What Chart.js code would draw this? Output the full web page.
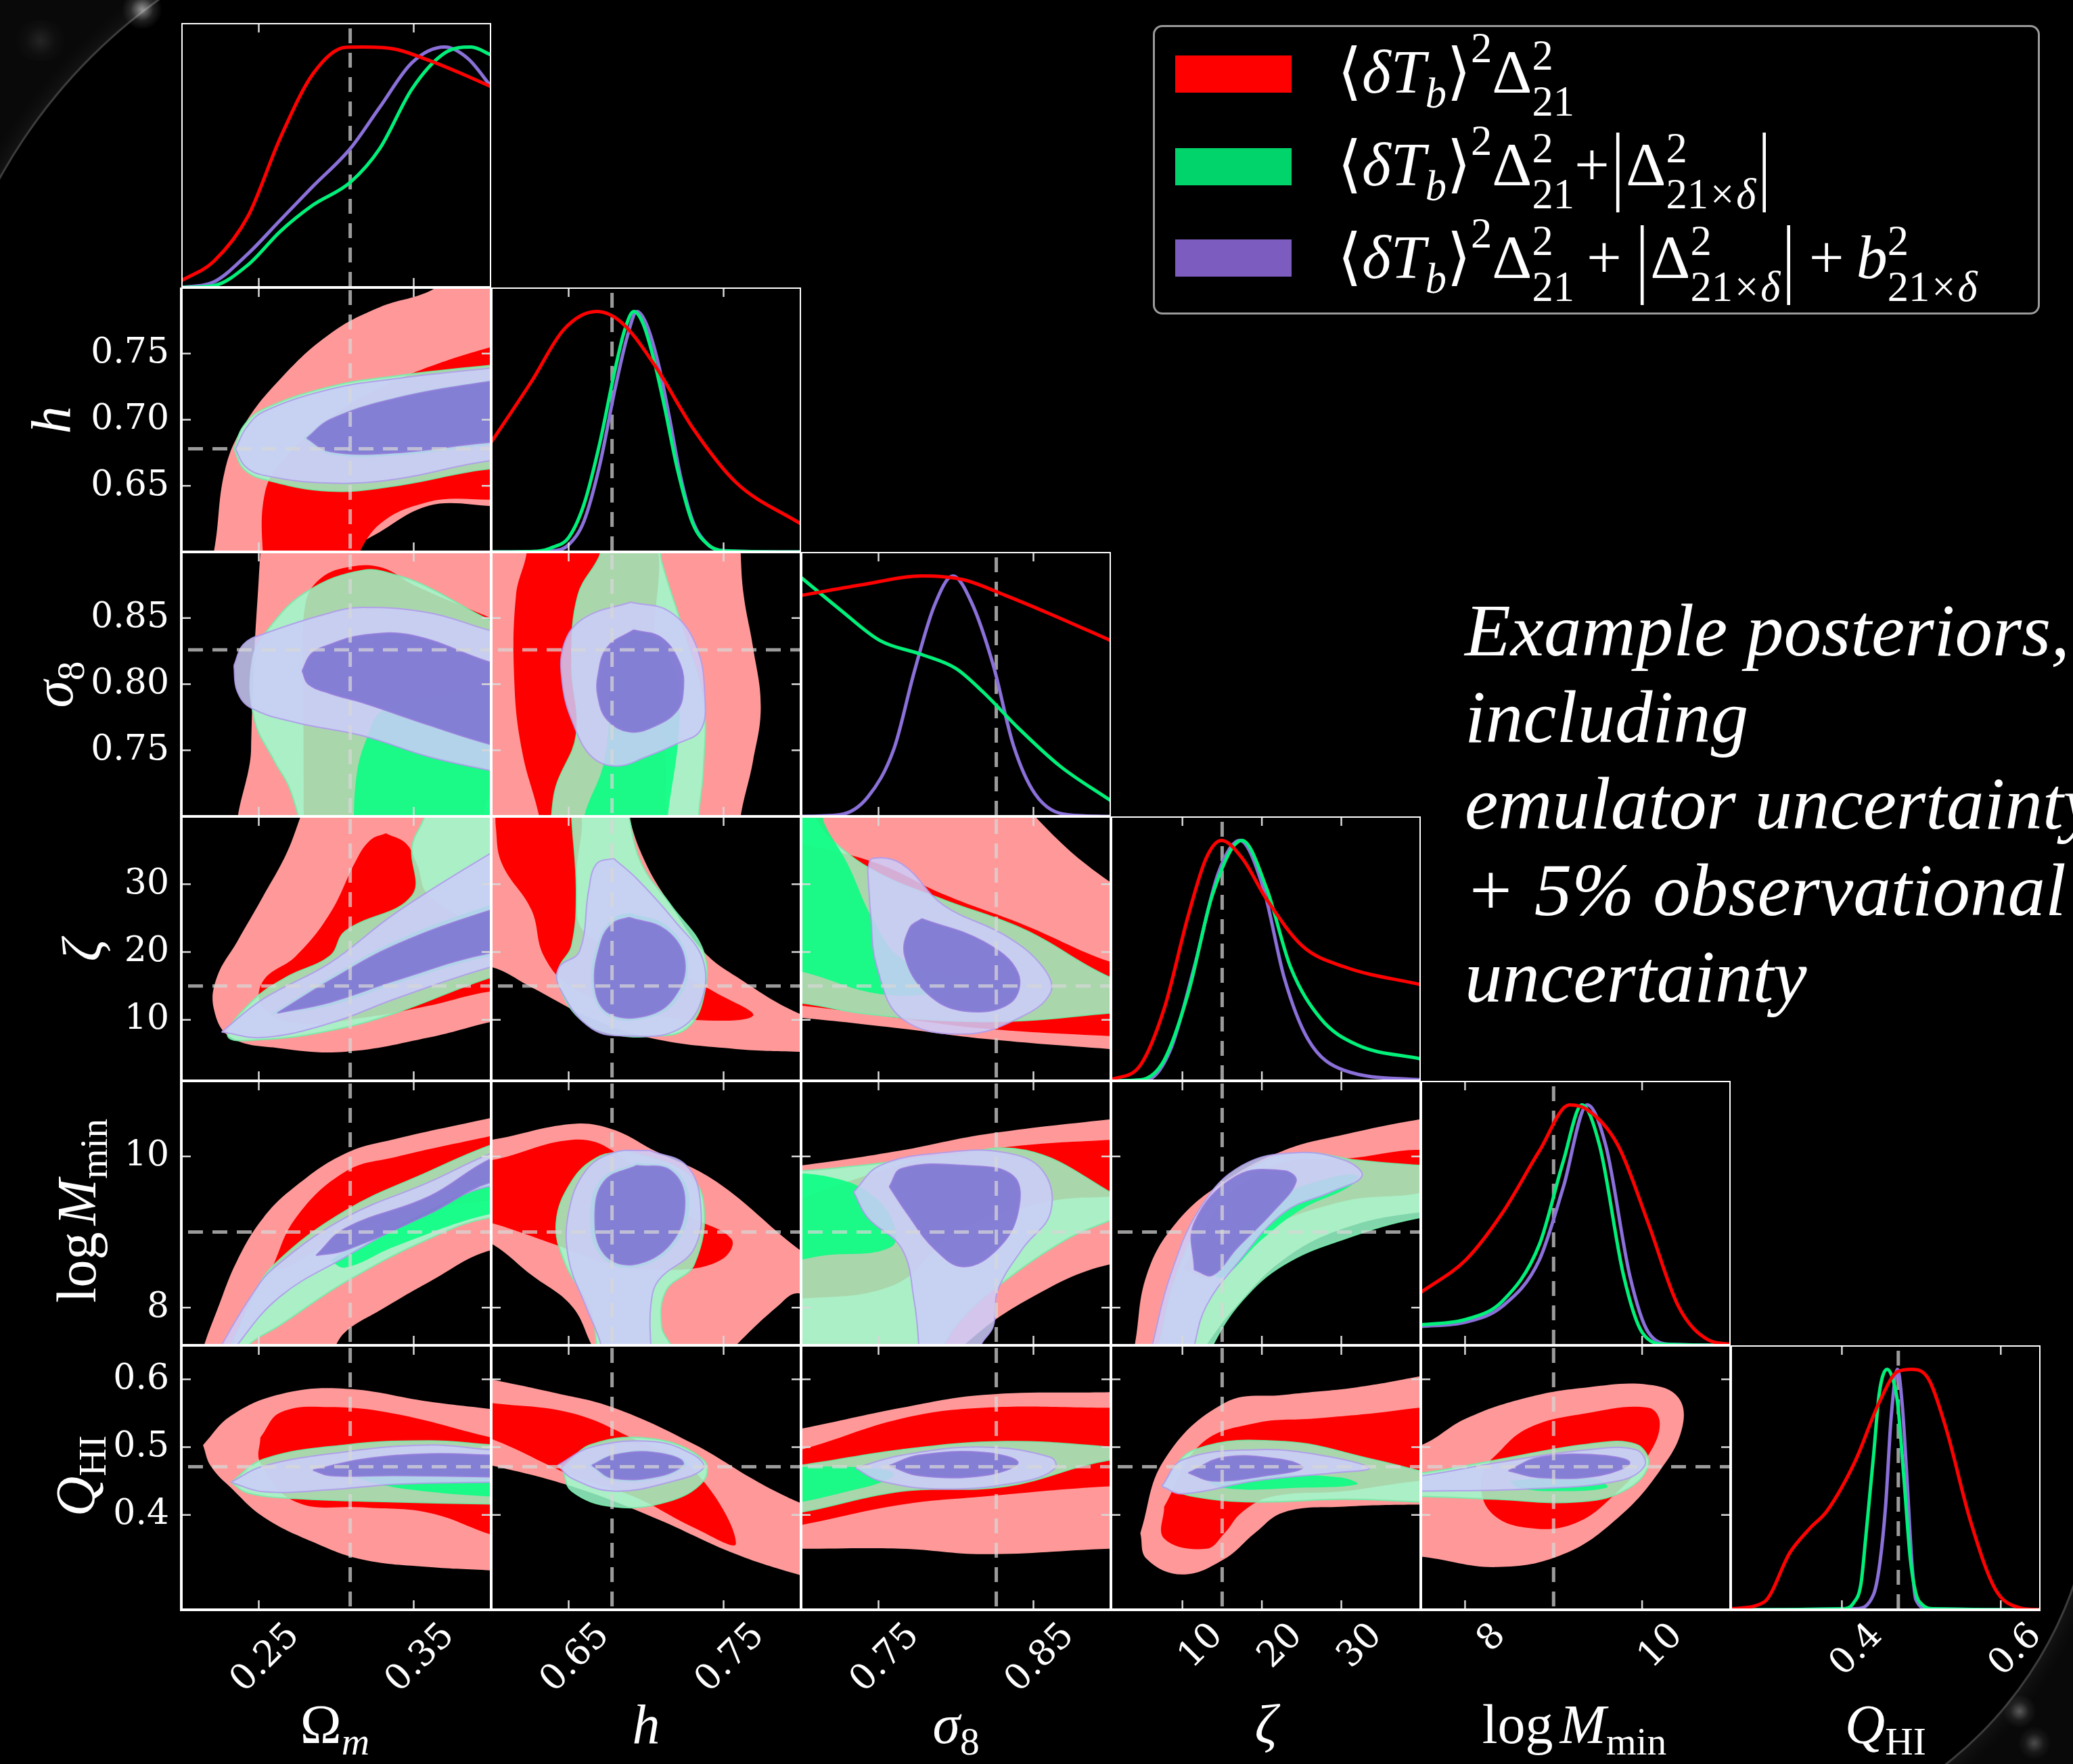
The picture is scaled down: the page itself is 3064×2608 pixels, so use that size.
<!DOCTYPE html>
<html>
<head>
<meta charset="utf-8">
<script src="https://cdn.jsdelivr.net/npm/chart.js"></script>
<style>
  body { margin: 0; background: #000; }
  #wrap { position: relative; width: 3064px; height: 2608px; background: #000; overflow: hidden; color: #fff; }
  #wrap canvas { position: absolute; }
  .ttl { position: absolute; font-family: 'Liberation Serif', 'Times New Roman', Tinos, 'DejaVu Serif', serif; font-size: 82px; line-height: 1; white-space: nowrap; transform: translate(-50%, -50%); }
  .ttl.rot { transform: translate(-50%, -50%) rotate(-90deg); }
  .ttl sub { font-size: 0.7em; vertical-align: -0.3em; line-height: 0; }
  .patch { position: absolute; left: 1737px; width: 172px; height: 55px; }
  .lg { position: absolute; left: 1977px; font-family: 'Liberation Serif', 'Times New Roman', Tinos, 'DejaVu Serif', serif; font-size: 92px; line-height: 2; white-space: nowrap; }
  .lg sup { font-size: 0.68em; vertical-align: 0.72em; line-height: 0; }
  .lg sub { font-size: 0.68em; vertical-align: -0.35em; line-height: 0; }
  .ss { display: inline-block; font-size: 0.68em; line-height: 1.1; vertical-align: -0.55em; }
  .ss > span { display: block; }
  .bar { display: inline-block; transform: scaleY(1.4); margin: 0 3px; }
  .pl { margin: 0 18px; }
  .x { margin: 0 3px; }
  #note { position: absolute; left: 2165px; top: 868px; font-family: 'Liberation Serif', 'Times New Roman', Tinos, 'DejaVu Serif', serif; font-style: italic; font-size: 111px; line-height: 128px; white-space: nowrap; }
  .deco { position: absolute; overflow: hidden; background: rgba(255,255,255,0.035); }
  .arc { position: absolute; border-radius: 50%; background: #000; border: 3px solid rgba(200,200,200,0.3); box-shadow: 0 0 36px rgba(255,255,255,0.09); }
  .glow { position: absolute; border-radius: 50%; background: radial-gradient(circle, rgba(255,255,255,0.55) 0%, rgba(255,255,255,0.12) 40%, rgba(255,255,255,0) 70%); }
</style>
</head>
<body>
<div id="wrap">
  <div class="deco" style="left:0;top:0;width:300px;height:280px">
    <div class="arc" style="left:-103px;top:-153px;width:1608px;height:1608px"></div>
    <div class="glow" style="left:180px;top:-16px;width:60px;height:60px"></div>
    <div class="glow" style="left:15px;top:30px;width:90px;height:60px;opacity:0.2"></div>
  </div>
  <div class="deco" style="left:2820px;top:2260px;width:244px;height:348px">
    <div class="arc" style="left:-874px;top:-680px;width:1146px;height:1146px"></div>
    <div class="glow" style="left:140px;top:245px;width:50px;height:50px;opacity:0.6"></div>
    <div class="glow" style="left:162px;top:292px;width:50px;height:50px;opacity:0.5"></div>
  </div>

  <div style="position:absolute;left:1704px;top:37px;width:1311px;height:428px;box-sizing:border-box;border:3px solid #9a9a9a;border-radius:14px;background:#000"></div>
  <div class="patch" style="top:82px;background:#ff0000"></div>
  <div class="patch" style="top:219px;background:#00d46a"></div>
  <div class="patch" style="top:354px;background:#7c5cbe"></div>
  <div class="lg" style="top:14px">⟨<i>δT</i><sub><i>b</i></sub>⟩<sup>2</sup>Δ<span class="ss"><span>2</span><span>21</span></span></div>
  <div class="lg" style="top:151px">⟨<i>δT</i><sub><i>b</i></sub>⟩<sup>2</sup>Δ<span class="ss"><span>2</span><span>21</span></span>+<span class="bar">|</span>Δ<span class="ss"><span>2</span><span>21<span class="x">×</span><i>δ</i></span></span><span class="bar">|</span></div>
  <div class="lg" style="top:288px">⟨<i>δT</i><sub><i>b</i></sub>⟩<sup>2</sup>Δ<span class="ss"><span>2</span><span>21</span></span><span class="pl">+</span><span class="bar">|</span>Δ<span class="ss"><span>2</span><span>21<span class="x">×</span><i>δ</i></span></span><span class="bar">|</span><span class="pl">+</span><i>b</i><span class="ss"><span>2</span><span>21<span class="x">×</span><i>δ</i></span></span></div>

  <div id="note">Example posteriors,<br>including<br>emulator uncertainty<br>+ 5% observational<br>uncertainty</div>

  <div class="ttl" style="left:495px;top:2550px">Ω<sub><i>m</i></sub></div>
  <div class="ttl" style="left:955px;top:2550px"><i>h</i></div>
  <div class="ttl" style="left:1413px;top:2550px"><i>σ</i><sub>8</sub></div>
  <div class="ttl" style="left:1871px;top:2550px"><i>ζ</i></div>
  <div class="ttl" style="left:2327px;top:2550px">log<i style="margin-left:10px">M</i><sub>min</sub></div>
  <div class="ttl" style="left:2787px;top:2550px"><i>Q</i><sub>HI</sub></div>

  <div class="ttl rot" style="left:76px;top:621px"><i>h</i></div>
  <div class="ttl rot" style="left:80px;top:1012px"><i>σ</i><sub>8</sub></div>
  <div class="ttl rot" style="left:122px;top:1405px"><i>ζ</i></div>
  <div class="ttl rot" style="left:114px;top:1790px">log<i style="margin-left:10px">M</i><sub>min</sub></div>
  <div class="ttl rot" style="left:112px;top:2182px"><i>Q</i><sub>HI</sub></div>
</div>

<script>
// parameters: Om, h, sigma8, zeta, logMmin, QHI
const paramMin = [0.2, 0.6, 0.7, 1, 7.5, 0.26];
const paramMax = [0.4, 0.8, 0.9, 40, 11, 0.65];
const truth = [0.309, 0.678, 0.826, 15, 9, 0.471];
const xTickVals = [[0.25, 0.35], [0.65, 0.75], [0.75, 0.85], [10, 20, 30], [8, 10], [0.4, 0.6]];
const xTickText = [['0.25', '0.35'], ['0.65', '0.75'], ['0.75', '0.85'], ['10', '20', '30'], ['8', '10'], ['0.4', '0.6']];
const yTickVals = [[], [0.65, 0.70, 0.75], [0.75, 0.80, 0.85], [10, 20, 30], [8, 10], [0.4, 0.5, 0.6]];
const yTickText = [[], ['0.65', '0.70', '0.75'], ['0.75', '0.80', '0.85'], ['10', '20', '30'], ['8', '10'], ['0.4', '0.5', '0.6']];

// 1D marginals (normalised to peak 1)
const omD_r = [[0.2,0.028],[0.221,0.109],[0.243,0.296],[0.264,0.624],[0.285,0.889],[0.306,0.999],[0.317,1.0],[0.338,0.991],[0.36,0.944],[0.381,0.889],[0.40,0.835]];
const omD_g = [[0.2,0],[0.221,0.008],[0.243,0.094],[0.264,0.234],[0.285,0.343],[0.309,0.437],[0.328,0.577],[0.349,0.827],[0.37,0.975],[0.387,1.0],[0.40,0.967]];
const omD_p = [[0.2,0],[0.221,0.023],[0.243,0.14],[0.264,0.281],[0.285,0.421],[0.309,0.577],[0.328,0.749],[0.349,0.936],[0.37,1.0],[0.385,0.952],[0.40,0.835]];
const hD_r = [[0.6,0.456],[0.626,0.709],[0.647,0.926],[0.668,1.0],[0.684,0.955],[0.705,0.782],[0.731,0.507],[0.758,0.289],[0.80,0.116]];
const hD_g = [[0.6,0],[0.63,0.003],[0.64,0.02],[0.65,0.06],[0.66,0.2],[0.67,0.45],[0.68,0.76],[0.686,0.92],[0.692,1.0],[0.698,0.95],[0.705,0.80],[0.712,0.6],[0.72,0.35],[0.73,0.12],[0.74,0.03],[0.75,0.005],[0.8,0]];
const hD_p = [[0.6,0],[0.64,0.005],[0.65,0.03],[0.66,0.13],[0.67,0.36],[0.68,0.68],[0.688,0.9],[0.694,1.0],[0.70,0.95],[0.708,0.78],[0.715,0.56],[0.722,0.32],[0.73,0.13],[0.74,0.03],[0.75,0.005],[0.8,0]];
const s8D_r = [[0.70,0.919],[0.738,0.962],[0.778,1.0],[0.805,0.984],[0.832,0.919],[0.859,0.847],[0.90,0.731]];
const s8D_g = [[0.70,0.994],[0.725,0.861],[0.751,0.731],[0.778,0.673],[0.80,0.615],[0.818,0.514],[0.84,0.369],[0.867,0.21],[0.90,0.065]];
const s8D_p = [[0.70,0],[0.725,0.007],[0.743,0.08],[0.76,0.282],[0.773,0.60],[0.786,0.876],[0.798,1.0],[0.81,0.89],[0.824,0.63],[0.837,0.297],[0.851,0.094],[0.872,0.007],[0.90,0]];
const zD_r = [[1,0.004],[4.7,0.065],[7.7,0.30],[10.75,0.69],[13.0,0.927],[14.9,1.0],[17.5,0.927],[20.6,0.755],[25.1,0.561],[30.4,0.474],[40,0.40]];
const zD_g = [[1,0],[4.7,0.004],[7.7,0.086],[10.75,0.367],[13.8,0.776],[17.5,1.0],[20.6,0.80],[23.6,0.474],[27.4,0.259],[31.9,0.151],[40,0.091]];
const zD_p = [[1,0],[5.5,0.004],[8.5,0.13],[11.5,0.474],[14.5,0.863],[17.2,1.0],[20.2,0.80],[22.8,0.43],[25.8,0.173],[30.4,0.043],[40,0.004]];
const mD_r = [[7.5,0.22],[8.01,0.356],[8.42,0.55],[8.84,0.809],[9.18,1.0],[9.38,0.98],[9.73,0.83],[10.07,0.507],[10.41,0.162],[10.75,0.022],[11.0,0.004]];
const mD_g = [[7.5,0.085],[8.01,0.108],[8.42,0.183],[8.84,0.42],[9.11,0.766],[9.32,1.0],[9.52,0.83],[9.79,0.291],[10.0,0.054],[10.27,0.004],[11,0]];
const mD_p = [[7.5,0.078],[8.01,0.097],[8.42,0.162],[8.84,0.356],[9.11,0.658],[9.38,1.0],[9.59,0.83],[9.86,0.291],[10.07,0.054],[10.34,0.004],[11,0]];
const qD_r = [[0.26,0.004],[0.302,0.032],[0.335,0.24],[0.36,0.34],[0.381,0.41],[0.417,0.62],[0.447,0.863],[0.47,0.99],[0.488,1.0],[0.509,0.96],[0.531,0.755],[0.562,0.367],[0.593,0.086],[0.623,0.009],[0.65,0]];
const qD_g = [[0.26,0],[0.40,0.004],[0.415,0.03],[0.424,0.108],[0.43,0.3],[0.44,0.647],[0.447,0.9],[0.457,1.0],[0.464,0.96],[0.47,0.863],[0.478,0.55],[0.486,0.216],[0.493,0.07],[0.501,0.022],[0.516,0.004],[0.65,0]];
const qD_p = [[0.26,0],[0.417,0.004],[0.44,0.065],[0.448,0.2],[0.455,0.431],[0.462,0.8],[0.470,1.0],[0.476,0.85],[0.482,0.539],[0.488,0.2],[0.493,0.043],[0.509,0.004],[0.65,0]];

// 2D credible regions: r = red, g = green, p = purple; 2 = outer, 1 = inner
const hOm_r2 = [[0.215,0.58],[0.221,0.60],[0.228,0.661],[0.240,0.695],[0.264,0.731],[0.296,0.765],[0.328,0.785],[0.360,0.797],[0.375,0.81],[0.42,0.81],[0.42,0.645],[0.36,0.635],[0.328,0.615],[0.311,0.601],[0.305,0.58]];
const hOm_r1 = [[0.253,0.58],[0.254,0.645],[0.27,0.675],[0.30,0.705],[0.33,0.725],[0.36,0.740],[0.40,0.755],[0.42,0.76],[0.42,0.65],[0.36,0.638],[0.328,0.621],[0.30,0.58]];
const hOm_g2 = [[0.234,0.678],[0.24,0.695],[0.253,0.708],[0.296,0.725],[0.338,0.733],[0.40,0.741],[0.42,0.742],[0.42,0.66],[0.40,0.663],[0.338,0.65],[0.296,0.646],[0.253,0.655],[0.24,0.663]];
const hOm_g1 = [[0.279,0.686],[0.296,0.701],[0.338,0.717],[0.40,0.730],[0.42,0.732],[0.42,0.68],[0.40,0.681],[0.338,0.673],[0.296,0.674]];
const hOm_p2 = [[0.235,0.678],[0.242,0.694],[0.253,0.706],[0.296,0.723],[0.338,0.731],[0.40,0.739],[0.42,0.740],[0.42,0.667],[0.40,0.669],[0.338,0.655],[0.296,0.652],[0.253,0.658],[0.241,0.665]];
const hOm_p1 = [[0.281,0.686],[0.296,0.700],[0.338,0.716],[0.40,0.729],[0.42,0.731],[0.42,0.682],[0.40,0.683],[0.338,0.675],[0.296,0.676]];

const s8Om_r2 = [[0.252,0.92],[0.250,0.88],[0.247,0.82],[0.245,0.75],[0.244,0.68],[0.42,0.68],[0.42,0.92]];
const s8Om_r1 = [[0.279,0.68],[0.279,0.80],[0.280,0.86],[0.29,0.88],[0.31,0.889],[0.33,0.888],[0.35,0.875],[0.40,0.85],[0.42,0.84],[0.42,0.75],[0.40,0.72],[0.385,0.68]];
const s8Om_g2 = [[0.280,0.68],[0.270,0.721],[0.260,0.742],[0.247,0.774],[0.246,0.819],[0.257,0.843],[0.281,0.870],[0.317,0.886],[0.34,0.882],[0.36,0.873],[0.398,0.849],[0.42,0.84],[0.42,0.68]];
const s8Om_g1 = [[0.311,0.68],[0.313,0.73],[0.32,0.76],[0.33,0.78],[0.36,0.79],[0.42,0.79],[0.42,0.68]];
const s8Om_p2 = [[0.234,0.814],[0.240,0.830],[0.253,0.838],[0.296,0.854],[0.317,0.858],[0.36,0.854],[0.398,0.841],[0.42,0.835],[0.42,0.73],[0.398,0.735],[0.36,0.745],[0.317,0.761],[0.274,0.771],[0.245,0.782],[0.236,0.795]];
const s8Om_p1 = [[0.278,0.810],[0.284,0.823],[0.296,0.830],[0.317,0.837],[0.349,0.837],[0.398,0.817],[0.42,0.81],[0.42,0.75],[0.398,0.755],[0.36,0.769],[0.317,0.786],[0.296,0.793],[0.282,0.800]];

const zOm_r2 = [[0.28,42],[0.277,40],[0.268,34.6],[0.253,28.3],[0.236,21.5],[0.223,16.3],[0.221,11.6],[0.232,7.4],[0.264,5.8],[0.306,5.3],[0.36,7.4],[0.40,9.7],[0.42,10.5],[0.42,42]];
const zOm_r1 = [[0.332,37.5],[0.345,36],[0.352,33],[0.36,28.3],[0.40,23.1],[0.42,22],[0.42,14],[0.40,14.2],[0.36,12.1],[0.317,10.3],[0.274,9.5],[0.252,12],[0.253,15.8],[0.274,19.4],[0.296,25.7],[0.313,33.6],[0.322,36.5]];
const zOm_g2 = [[0.357,42],[0.357,40],[0.349,35.7],[0.349,28.3],[0.306,23.1],[0.296,19.4],[0.268,16.3],[0.245,12.6],[0.230,7.6],[0.253,7.1],[0.296,8.4],[0.338,11.0],[0.40,16.3],[0.42,17],[0.42,42]];
const zOm_g1 = [[0.258,10.8],[0.296,16.3],[0.338,21.6],[0.40,27],[0.42,28],[0.42,19],[0.40,19.4],[0.338,15.3],[0.296,12.1]];
const zOm_p2 = [[0.226,8.2],[0.253,13.1],[0.296,18.4],[0.338,25.7],[0.40,34.6],[0.42,37],[0.42,18.5],[0.40,17.8],[0.338,13.1],[0.296,9.5],[0.253,7.4]];
const zOm_p1 = [[0.262,11.0],[0.296,15.8],[0.338,21.0],[0.40,26.2],[0.42,27],[0.42,19.5],[0.40,19.9],[0.338,15.8],[0.296,12.6]];

const mOm_r2 = [[0.212,7.3],[0.215,7.52],[0.223,7.96],[0.236,8.62],[0.253,9.19],[0.274,9.61],[0.306,10.04],[0.338,10.23],[0.40,10.51],[0.42,10.6],[0.42,8.68],[0.40,8.76],[0.36,8.34],[0.328,7.96],[0.306,7.68],[0.29,7.3]];
const mOm_r1 = [[0.258,8.5],[0.274,9.19],[0.306,9.80],[0.338,9.99],[0.40,10.27],[0.42,10.35],[0.42,9.6],[0.36,9.3],[0.30,8.9],[0.27,8.55]];
const mOm_g2 = [[0.225,7.3],[0.232,7.5],[0.245,8.1],[0.26,8.57],[0.306,9.28],[0.36,9.80],[0.40,10.15],[0.42,10.25],[0.42,9.1],[0.40,9.19],[0.36,8.91],[0.306,8.34],[0.264,7.77],[0.243,7.5],[0.238,7.3]];
const mOm_g1 = [[0.296,8.62],[0.338,9.19],[0.40,9.75],[0.42,9.85],[0.42,9.2],[0.40,9.24],[0.338,8.81],[0.306,8.53]];
const mOm_p2 = [[0.222,7.3],[0.226,7.5],[0.245,8.15],[0.26,8.53],[0.306,9.19],[0.36,9.66],[0.40,10.04],[0.42,10.15],[0.42,9.55],[0.40,9.61],[0.36,9.28],[0.306,8.67],[0.264,8.15],[0.236,7.5],[0.232,7.3]];
const mOm_p1 = [[0.287,8.69],[0.306,9.05],[0.36,9.47],[0.40,9.97],[0.42,10.05],[0.42,9.6],[0.40,9.66],[0.36,9.24],[0.306,8.76]];

const qOm_r2 = [[0.214,0.503],[0.232,0.546],[0.264,0.578],[0.306,0.586],[0.36,0.567],[0.40,0.556],[0.42,0.55],[0.42,0.315],[0.40,0.318],[0.36,0.323],[0.317,0.334],[0.285,0.36],[0.253,0.397],[0.232,0.44],[0.219,0.472]];
const qOm_r1 = [[0.251,0.514],[0.264,0.551],[0.296,0.559],[0.338,0.549],[0.40,0.514],[0.42,0.505],[0.42,0.36],[0.40,0.371],[0.36,0.403],[0.317,0.411],[0.274,0.419],[0.251,0.477]];
const qOm_g2 = [[0.232,0.448],[0.253,0.482],[0.306,0.503],[0.36,0.509],[0.40,0.503],[0.42,0.50],[0.42,0.415],[0.40,0.416],[0.338,0.419],[0.274,0.424],[0.243,0.432]];
const qOm_g1 = [[0.306,0.461],[0.338,0.477],[0.40,0.482],[0.42,0.483],[0.42,0.426],[0.40,0.427],[0.36,0.434],[0.328,0.445]];
const qOm_p2 = [[0.232,0.448],[0.253,0.472],[0.306,0.493],[0.36,0.503],[0.40,0.496],[0.42,0.494],[0.42,0.447],[0.40,0.448],[0.338,0.445],[0.296,0.437],[0.253,0.434]];
const qOm_p1 = [[0.285,0.466],[0.317,0.482],[0.36,0.490],[0.40,0.488],[0.42,0.487],[0.42,0.455],[0.40,0.456],[0.338,0.458],[0.296,0.458]];

const s8H_r2 = [[0.58,0.68],[0.58,0.92],[0.761,0.92],[0.761,0.9],[0.763,0.867],[0.769,0.828],[0.774,0.783],[0.769,0.742],[0.761,0.70],[0.760,0.68]];
const s8H_r1 = [[0.623,0.92],[0.623,0.9],[0.616,0.867],[0.615,0.80],[0.620,0.749],[0.631,0.70],[0.633,0.68],[0.714,0.68],[0.713,0.70],[0.712,0.75],[0.705,0.82],[0.70,0.92]];
const s8H_g2 = [[0.671,0.92],[0.671,0.9],[0.656,0.867],[0.652,0.815],[0.655,0.762],[0.642,0.723],[0.639,0.70],[0.638,0.68],[0.734,0.68],[0.734,0.701],[0.737,0.736],[0.737,0.788],[0.724,0.841],[0.710,0.893],[0.706,0.92]];
const s8H_g1 = [[0.659,0.68],[0.66,0.70],[0.673,0.742],[0.678,0.80],[0.685,0.83],[0.695,0.84],[0.71,0.83],[0.72,0.80],[0.721,0.762],[0.714,0.70],[0.713,0.68]];
const s8H_p2 = [[0.690,0.862],[0.715,0.855],[0.732,0.83],[0.738,0.79],[0.735,0.765],[0.72,0.755],[0.700,0.745],[0.681,0.738],[0.665,0.745],[0.653,0.77],[0.646,0.80],[0.647,0.83],[0.66,0.85]];
const s8H_p1 = [[0.692,0.841],[0.71,0.835],[0.722,0.815],[0.724,0.796],[0.72,0.78],[0.705,0.768],[0.689,0.764],[0.675,0.773],[0.669,0.79],[0.669,0.807],[0.675,0.828]];

const zH_r2 = [[0.58,17.8],[0.58,42],[0.69,42],[0.689,40],[0.700,33],[0.716,26.9],[0.737,20.1],[0.758,16.4],[0.798,11.0],[0.82,10],[0.82,5.2],[0.798,5.3],[0.758,5.7],[0.705,7.2],[0.665,10.2],[0.626,14.8],[0.60,17.8]];
const zH_r1 = [[0.603,42],[0.603,38.4],[0.607,33.0],[0.626,26.2],[0.634,19.4],[0.652,14.8],[0.69,11.5],[0.73,10.0],[0.769,10.6],[0.745,14],[0.72,17],[0.70,19],[0.66,23],[0.655,30],[0.654,42]];
const zH_g2 = [[0.652,42],[0.652,40],[0.655,29.2],[0.652,20.9],[0.644,17.8],[0.643,15.5],[0.657,10.2],[0.679,7.9],[0.705,7.6],[0.726,8.7],[0.737,13.3],[0.737,20.1],[0.716,26.9],[0.697,33.0],[0.689,40],[0.689,42]];
const zH_g1 = [[0.689,25.8],[0.714,23.8],[0.727,18.6],[0.72,12.9],[0.70,10.2],[0.675,10.6],[0.665,14.8],[0.669,21.6],[0.679,25]];
const zH_p2 = [[0.679,33.8],[0.694,30.8],[0.718,24.7],[0.737,18.6],[0.734,11.8],[0.718,8.3],[0.692,7.6],[0.665,8.7],[0.644,14.8],[0.644,17.8],[0.657,20.1],[0.663,29.2],[0.668,33.0]];
const zH_p1 = [[0.689,25.1],[0.713,23.2],[0.725,18.6],[0.718,13.3],[0.70,10.6],[0.676,11.0],[0.667,14.8],[0.671,21.6],[0.679,24.3]];

const mH_r2 = [[0.58,10.2],[0.60,10.22],[0.652,10.43],[0.678,10.36],[0.705,10.08],[0.745,9.67],[0.798,8.78],[0.82,8.5],[0.82,8.0],[0.798,8.19],[0.785,8.02],[0.758,7.5],[0.75,7.3],[0.67,7.3],[0.665,7.5],[0.652,8.02],[0.626,8.43],[0.60,8.85],[0.58,9.0]];
const mH_r1 = [[0.58,9.95],[0.60,9.95],[0.652,10.22],[0.678,10.08],[0.724,9.26],[0.755,8.91],[0.749,8.64],[0.72,8.5],[0.678,8.57],[0.639,8.85],[0.60,9.12],[0.58,9.2]];
const mH_g2 = [[0.687,10.08],[0.724,9.81],[0.737,9.4],[0.731,8.57],[0.713,8.23],[0.71,7.75],[0.716,7.5],[0.72,7.3],[0.666,7.3],[0.668,7.5],[0.663,8.02],[0.648,8.57],[0.642,9.12],[0.652,9.67],[0.668,9.98]];
const mH_g1 = [[0.694,9.92],[0.718,9.83],[0.728,9.4],[0.718,8.82],[0.692,8.53],[0.671,8.68],[0.664,9.19],[0.671,9.7]];
const mH_p2 = [[0.702,10.08],[0.726,9.88],[0.735,9.4],[0.731,8.78],[0.708,8.36],[0.703,8.02],[0.703,7.5],[0.704,7.3],[0.670,7.3],[0.671,7.5],[0.661,8.02],[0.65,8.64],[0.65,9.26],[0.661,9.81],[0.679,10.05]];
const mH_p1 = [[0.694,9.88],[0.716,9.81],[0.725,9.4],[0.716,8.85],[0.692,8.57],[0.673,8.71],[0.667,9.19],[0.673,9.67]];

const qH_r2 = [[0.58,0.61],[0.60,0.60],[0.639,0.581],[0.679,0.558],[0.731,0.504],[0.771,0.45],[0.798,0.419],[0.82,0.40],[0.82,0.30],[0.798,0.312],[0.758,0.342],[0.705,0.396],[0.652,0.442],[0.60,0.473],[0.58,0.48]];
const qH_r1 = [[0.58,0.57],[0.60,0.565],[0.652,0.55],[0.692,0.512],[0.731,0.465],[0.758,0.358],[0.731,0.381],[0.692,0.427],[0.652,0.458],[0.60,0.512],[0.58,0.52]];
const qH_g2 = [[0.646,0.469],[0.665,0.504],[0.705,0.512],[0.737,0.481],[0.737,0.45],[0.713,0.419],[0.679,0.412],[0.652,0.435]];
const qH_g1 = [[0.663,0.473],[0.679,0.49],[0.705,0.494],[0.726,0.477],[0.712,0.456],[0.679,0.451]];
const qH_p2 = [[0.643,0.473],[0.665,0.50],[0.705,0.508],[0.731,0.488],[0.737,0.469],[0.718,0.45],[0.679,0.435],[0.652,0.454]];
const qH_p1 = [[0.665,0.473],[0.679,0.488],[0.705,0.492],[0.724,0.477],[0.71,0.458],[0.679,0.454]];

const zS8_r2 = [[0.68,10.5],[0.68,42],[0.851,42],[0.851,40],[0.899,30.4],[0.92,29],[0.92,5.5],[0.899,5.7],[0.818,7.2],[0.765,8.7],[0.70,10.3]];
const zS8_r1 = [[0.68,12.2],[0.70,12.1],[0.765,10.2],[0.818,8.7],[0.899,7.6],[0.92,7.5],[0.92,18],[0.899,18.6],[0.845,23.9],[0.792,28.5],[0.75,33],[0.70,36],[0.68,37]];
const zS8_g2 = [[0.68,12.5],[0.70,12.5],[0.738,11.0],[0.792,9.9],[0.845,9.9],[0.899,11.0],[0.92,11.2],[0.92,15.5],[0.899,16.3],[0.845,23.2],[0.792,27.7],[0.751,31.5],[0.722,36.1],[0.709,40],[0.707,42],[0.68,42]];
const zS8_g1 = [[0.68,42],[0.712,42],[0.715,39],[0.73,33],[0.746,25],[0.765,19],[0.80,16.5],[0.84,15],[0.84,14],[0.80,14],[0.751,13.8],[0.70,17.1],[0.68,17.5]];
const zS8_p2 = [[0.743,32.2],[0.746,33.8],[0.765,33.0],[0.792,26.9],[0.832,22.4],[0.856,17.8],[0.861,14.0],[0.84,10.2],[0.805,7.9],[0.765,10.2],[0.749,17.8],[0.745,25.4]];
const zS8_p1 = [[0.778,24.9],[0.818,21.5],[0.84,16.9],[0.835,12.5],[0.805,11.3],[0.781,14.0],[0.767,19.4],[0.77,23.5]];

const mS8_r2 = [[0.68,9.85],[0.70,9.88],[0.765,10.08],[0.818,10.29],[0.899,10.49],[0.92,10.52],[0.92,8.45],[0.899,8.57],[0.845,8.09],[0.805,7.5],[0.80,7.3],[0.68,7.3]];
const mS8_r1 = [[0.68,9.3],[0.765,9.9],[0.792,10.01],[0.845,10.15],[0.899,10.22],[0.92,10.24],[0.92,9.6],[0.859,9.4],[0.80,9.0],[0.76,8.3],[0.69,8.1],[0.68,8.1]];
const mS8_g2 = [[0.68,9.82],[0.70,9.81],[0.738,9.88],[0.792,10.01],[0.845,10.08],[0.899,9.53],[0.91,9.3],[0.872,8.91],[0.832,8.36],[0.805,7.88],[0.792,7.5],[0.79,7.3],[0.68,7.3]];
const mS8_g1 = [[0.68,9.8],[0.72,9.72],[0.745,9.5],[0.76,9.1],[0.758,8.8],[0.72,8.7],[0.68,8.7]];
const mS8_p2 = [[0.734,9.53],[0.751,9.88],[0.792,10.05],[0.832,10.05],[0.856,9.81],[0.861,9.26],[0.843,8.78],[0.827,8.23],[0.824,7.75],[0.816,7.5],[0.815,7.3],[0.776,7.3],[0.776,7.5],[0.773,8.09],[0.765,8.78],[0.743,9.19]];
const mS8_p1 = [[0.757,9.6],[0.765,9.84],[0.805,9.88],[0.837,9.74],[0.84,9.26],[0.827,8.78],[0.805,8.54],[0.786,8.78],[0.768,9.26]];

const qS8_r2 = [[0.68,0.52],[0.70,0.527],[0.765,0.558],[0.818,0.577],[0.899,0.581],[0.92,0.582],[0.92,0.35],[0.899,0.35],[0.818,0.342],[0.765,0.35],[0.70,0.35],[0.68,0.35]];
const qS8_r1 = [[0.68,0.49],[0.70,0.496],[0.765,0.542],[0.818,0.558],[0.899,0.558],[0.92,0.558],[0.92,0.44],[0.899,0.442],[0.818,0.427],[0.765,0.415],[0.70,0.385],[0.68,0.378]];
const qS8_g2 = [[0.68,0.47],[0.70,0.473],[0.765,0.496],[0.832,0.508],[0.899,0.50],[0.92,0.495],[0.92,0.475],[0.899,0.481],[0.832,0.442],[0.765,0.435],[0.70,0.404],[0.68,0.40]];
const qS8_g1 = [[0.68,0.47],[0.74,0.47],[0.76,0.46],[0.74,0.44],[0.68,0.42]];
const qS8_p2 = [[0.735,0.469],[0.765,0.488],[0.818,0.50],[0.861,0.485],[0.864,0.469],[0.845,0.45],[0.792,0.438],[0.751,0.45]];
const qS8_p1 = [[0.757,0.473],[0.776,0.488],[0.818,0.492],[0.84,0.477],[0.818,0.458],[0.776,0.458]];

const mZ_r2 = [[3.5,7.3],[4.0,7.5],[5.5,8.43],[9.2,9.12],[15.3,9.67],[22.8,10.08],[30.4,10.29],[39.8,10.49],[42,10.5],[42,9.2],[39.8,9.26],[30.4,9.05],[22.8,8.64],[16.8,8.02],[13.0,7.5],[12,7.3]];
const mZ_r1 = [[10,8.5],[15,9.4],[22,9.9],[30.4,9.97],[42,10.05],[42,9.6],[30,9.4],[20,9.0],[14,8.4]];
const mZ_g2 = [[6.5,7.3],[7.0,7.5],[9.2,8.43],[13.8,9.4],[19.1,9.88],[25.1,10.05],[31.9,9.95],[39.8,9.88],[42,9.87],[42,9.15],[39.8,9.19],[30.4,8.91],[22.8,8.57],[17.5,8.09],[13.8,7.5],[13.5,7.3]];
const mZ_g1 = [[13.0,8.5],[17,9.0],[22,9.45],[28,9.7],[32,9.75],[31,9.6],[25,9.3],[20,8.9],[15,8.4]];
const mZ_p2 = [[5.8,7.3],[6.2,7.5],[8.5,8.43],[12.3,9.33],[17.5,9.88],[24.3,10.05],[30.4,9.95],[32.6,9.74],[28.7,9.53],[22.8,9.26],[16.8,8.57],[13.0,8.02],[11.5,7.5],[11.3,7.3]];
const mZ_p1 = [[11.5,8.5],[11.5,9.12],[16.8,9.74],[22.8,9.81],[24.3,9.67],[21.3,9.26],[16.8,8.78],[13.8,8.43]];

const qZ_r2 = [[4.7,0.373],[7.7,0.481],[15.3,0.565],[22.8,0.577],[31.9,0.588],[39.8,0.604],[42,0.61],[42,0.413],[39.8,0.415],[30.4,0.412],[22.8,0.404],[19.1,0.373],[15.3,0.335],[10.0,0.312],[5.5,0.335]];
const qZ_r1 = [[7.7,0.412],[12.3,0.504],[19.1,0.535],[26.6,0.542],[34.2,0.55],[39.8,0.558],[42,0.56],[42,0.448],[39.8,0.45],[30.4,0.435],[21.3,0.427],[17.5,0.404],[15.3,0.373],[13.0,0.35],[7.7,0.365]];
const qZ_g2 = [[7.4,0.442],[11.5,0.496],[22.8,0.508],[34.2,0.481],[39.8,0.465],[42,0.46],[42,0.418],[39.8,0.419],[30.4,0.423],[19.1,0.419],[11.5,0.427]];
const qZ_g1 = [[12,0.46],[20,0.46],[30,0.455],[32,0.445],[25,0.44],[15,0.44]];
const qZ_p2 = [[7.4,0.442],[10.0,0.481],[19.1,0.496],[27.4,0.488],[33.5,0.469],[29.1,0.462],[19.1,0.450],[10.0,0.431]];
const qZ_p1 = [[10.75,0.462],[15.3,0.485],[22.8,0.481],[25.1,0.469],[20.6,0.458],[13.8,0.45]];

const qM_r2 = [[7.3,0.50],[7.53,0.504],[8.01,0.542],[8.7,0.573],[9.38,0.588],[10.07,0.592],[10.41,0.573],[10.45,0.527],[10.2,0.465],[9.73,0.396],[9.11,0.342],[8.36,0.323],[7.53,0.338],[7.3,0.34]];
const qM_r1 = [[8.29,0.481],[8.7,0.527],[9.38,0.55],[10.07,0.558],[10.2,0.535],[10.07,0.488],[9.73,0.435],[9.25,0.388],[8.7,0.381],[8.29,0.404],[8.18,0.45]];
const qM_g2 = [[7.3,0.462],[7.53,0.462],[8.36,0.481],[9.38,0.504],[9.93,0.504],[10.07,0.473],[9.79,0.435],[9.25,0.419],[8.36,0.423],[7.53,0.427],[7.3,0.427]];
const qM_g1 = [[8.5,0.45],[9.0,0.455],[9.5,0.452],[9.6,0.44],[9.0,0.435],[8.6,0.44]];
const qM_p2 = [[7.3,0.458],[7.53,0.458],[8.36,0.477],[9.38,0.496],[9.93,0.496],[10.03,0.473],[9.73,0.45],[8.7,0.438],[7.53,0.435],[7.3,0.435]];
const qM_p1 = [[8.49,0.465],[8.84,0.485],[9.52,0.488],[9.86,0.477],[9.52,0.458],[8.84,0.455]];

const diagCurves = [
  [omD_r, omD_g, omD_p], [hD_r, hD_g, hD_p], [s8D_r, s8D_g, s8D_p],
  [zD_r, zD_g, zD_p], [mD_r, mD_g, mD_p], [qD_r, qD_g, qD_p]
];
const panels2d = [
  [1, 0, [hOm_r2, hOm_r1, hOm_g2, hOm_g1, hOm_p2, hOm_p1]],
  [2, 0, [s8Om_r2, s8Om_r1, s8Om_g2, s8Om_g1, s8Om_p2, s8Om_p1]],
  [3, 0, [zOm_r2, zOm_r1, zOm_g2, zOm_g1, zOm_p2, zOm_p1]],
  [4, 0, [mOm_r2, mOm_r1, mOm_g2, mOm_g1, mOm_p2, mOm_p1]],
  [5, 0, [qOm_r2, qOm_r1, qOm_g2, qOm_g1, qOm_p2, qOm_p1]],
  [2, 1, [s8H_r2, s8H_r1, s8H_g2, s8H_g1, s8H_p2, s8H_p1]],
  [3, 1, [zH_r2, zH_r1, zH_g2, zH_g1, zH_p2, zH_p1]],
  [4, 1, [mH_r2, mH_r1, mH_g2, mH_g1, mH_p2, mH_p1]],
  [5, 1, [qH_r2, qH_r1, qH_g2, qH_g1, qH_p2, qH_p1]],
  [3, 2, [zS8_r2, zS8_r1, zS8_g2, zS8_g1, zS8_p2, zS8_p1]],
  [4, 2, [mS8_r2, mS8_r1, mS8_g2, mS8_g1, mS8_p2, mS8_p1]],
  [5, 2, [qS8_r2, qS8_r1, qS8_g2, qS8_g1, qS8_p2, qS8_p1]],
  [4, 3, [mZ_r2, mZ_r1, mZ_g2, mZ_g1, mZ_p2, mZ_p1]],
  [5, 3, [qZ_r2, qZ_r1, qZ_g2, qZ_g1, qZ_p2, qZ_p1]],
  [5, 4, [qM_r2, qM_r1, qM_g2, qM_g1, qM_p2, qM_p1]]
];

// styling
const fillColors = ['rgb(255,153,153)', 'rgb(255,0,0)', 'rgba(154,255,205,0.84)', 'rgba(0,255,126,0.84)', 'rgba(205,205,250,0.85)', 'rgba(125,118,210,0.9)'];
const edgeColors = [null, null, 'rgba(120,235,170,0.9)', null, 'rgba(175,155,235,0.9)', 'rgba(150,125,220,0.9)'];
const lineColors = ['#ff0000', '#00f07a', '#8a70d8'];

const GRID_LEFT = 268, GRID_TOP = 34, PW = 458, PH = 391, LM = 268, BM = 150;
const wrap = document.getElementById('wrap');

// white frame + inward tick marks on every panel
const frame = {
  id: 'frame',
  afterDatasetsDraw(chart, args, opts) {
    const ctx = chart.ctx, a = chart.chartArea;
    const xs = chart.scales.x, ys = chart.scales.y;
    ctx.save();
    ctx.strokeStyle = '#d8d8d8';
    ctx.lineWidth = 2.5;
    ctx.beginPath();
    xTickVals[opts.col].forEach(v => {
      const px = xs.getPixelForValue(v);
      ctx.moveTo(px, a.bottom); ctx.lineTo(px, a.bottom - 14);
      ctx.moveTo(px, a.top); ctx.lineTo(px, a.top + 14);
    });
    if (!opts.diag) {
      yTickVals[opts.row].forEach(v => {
        const py = ys.getPixelForValue(v);
        ctx.moveTo(a.left, py); ctx.lineTo(a.left + 14, py);
        ctx.moveTo(a.right, py); ctx.lineTo(a.right - 14, py);
      });
    }
    ctx.stroke();
    ctx.strokeStyle = '#ffffff';
    ctx.lineWidth = 4;
    ctx.strokeRect(a.left, a.top, a.right - a.left, a.bottom - a.top);
    ctx.restore();
  }
};

function toXY(pts) {
  return pts.map(p => ({ x: p[0], y: p[1] }));
}

function dashSet(pts, order) {
  return {
    data: toXY(pts), showLine: true, fill: false, borderColor: 'rgba(215,215,215,0.72)',
    borderWidth: 5, borderDash: [22, 14], pointRadius: 0, tension: 0, order: order, clip: 0
  };
}

function makePanel(row, col, datasets) {
  const diag = row === col;
  const leftExtra = (col === 0 && !diag) ? LM : 0;
  const bottomExtra = row === 5 ? BM : 0;
  const w = PW + leftExtra, h = PH + bottomExtra;
  const cv = document.createElement('canvas');
  cv.width = w; cv.height = h;
  cv.style.left = (GRID_LEFT + col * PW - leftExtra) + 'px';
  cv.style.top = (GRID_TOP + row * PH) + 'px';
  cv.style.width = w + 'px';
  cv.style.height = h + 'px';
  wrap.appendChild(cv);

  const showX = row === 5;
  const showY = leftExtra > 0;
  new Chart(cv, {
    type: 'scatter',
    data: { datasets: datasets },
    options: {
      responsive: false, animation: false, devicePixelRatio: 1, events: [],
      layout: { padding: 0, autoPadding: false },
      elements: { point: { radius: 0 }, line: { capBezierPoints: false } },
      plugins: { legend: { display: false }, tooltip: { enabled: false }, frame: { row: row, col: col, diag: diag } },
      scales: {
        x: {
          type: 'linear', min: paramMin[col], max: paramMax[col], bounds: 'data', display: showX,
          afterBuildTicks: s => { s.ticks = xTickVals[col].map(v => ({ value: v })); },
          afterFit: s => { s.height = bottomExtra; s.paddingLeft = 0; s.paddingRight = 0; },
          grid: { display: false, drawTicks: false }, border: { display: false },
          ticks: {
            color: '#ffffff', font: { family: 'DejaVu Serif', size: 53 }, minRotation: 45, maxRotation: 45,
            autoSkip: false, padding: 8, labelOffset: 52, callback: (v, i) => xTickText[col][i]
          }
        },
        y: {
          type: 'linear', min: diag ? 0 : paramMin[row], max: diag ? 1.1 : paramMax[row], bounds: 'data', display: showY,
          afterBuildTicks: s => { s.ticks = (diag ? [] : yTickVals[row]).map(v => ({ value: v })); },
          afterFit: s => { s.width = leftExtra; s.paddingTop = 0; s.paddingBottom = 0; },
          grid: { display: false, drawTicks: false }, border: { display: false },
          ticks: {
            color: '#ffffff', font: { family: 'DejaVu Serif', size: 52 }, autoSkip: false, padding: 18,
            callback: (v, i) => yTickText[row][i]
          }
        }
      }
    },
    plugins: [frame]
  });
}

// diagonal panels
diagCurves.forEach((curves, k) => {
  const sets = curves.map((c, j) => ({
    data: toXY(c), showLine: true, fill: false, borderColor: lineColors[j], borderWidth: 5,
    pointRadius: 0, cubicInterpolationMode: 'monotone', order: 1, clip: 0
  }));
  sets.push(dashSet([[truth[k], -0.2], [truth[k], 1.3]], 2));
  makePanel(k, k, sets);
});

// off-diagonal panels
panels2d.forEach(([row, col, regions]) => {
  const sets = regions.map((pts, j) => ({
    data: toXY(pts.concat([pts[0]])), showLine: true, fill: 'shape',
    backgroundColor: fillColors[j], borderColor: edgeColors[j] || 'rgba(0,0,0,0)',
    borderWidth: edgeColors[j] ? 2 : 0, pointRadius: 0, tension: 0.4, order: 8 - j, clip: 0
  }));
  const xr = paramMax[col] - paramMin[col], yr = paramMax[row] - paramMin[row];
  sets.push(dashSet([[truth[col], paramMin[row] - yr], [truth[col], paramMax[row] + yr]], 1));
  sets.push(dashSet([[paramMin[col] - xr, truth[row]], [paramMax[col] + xr, truth[row]]], 1));
  makePanel(row, col, sets);
});
</script>
</body>
</html>
